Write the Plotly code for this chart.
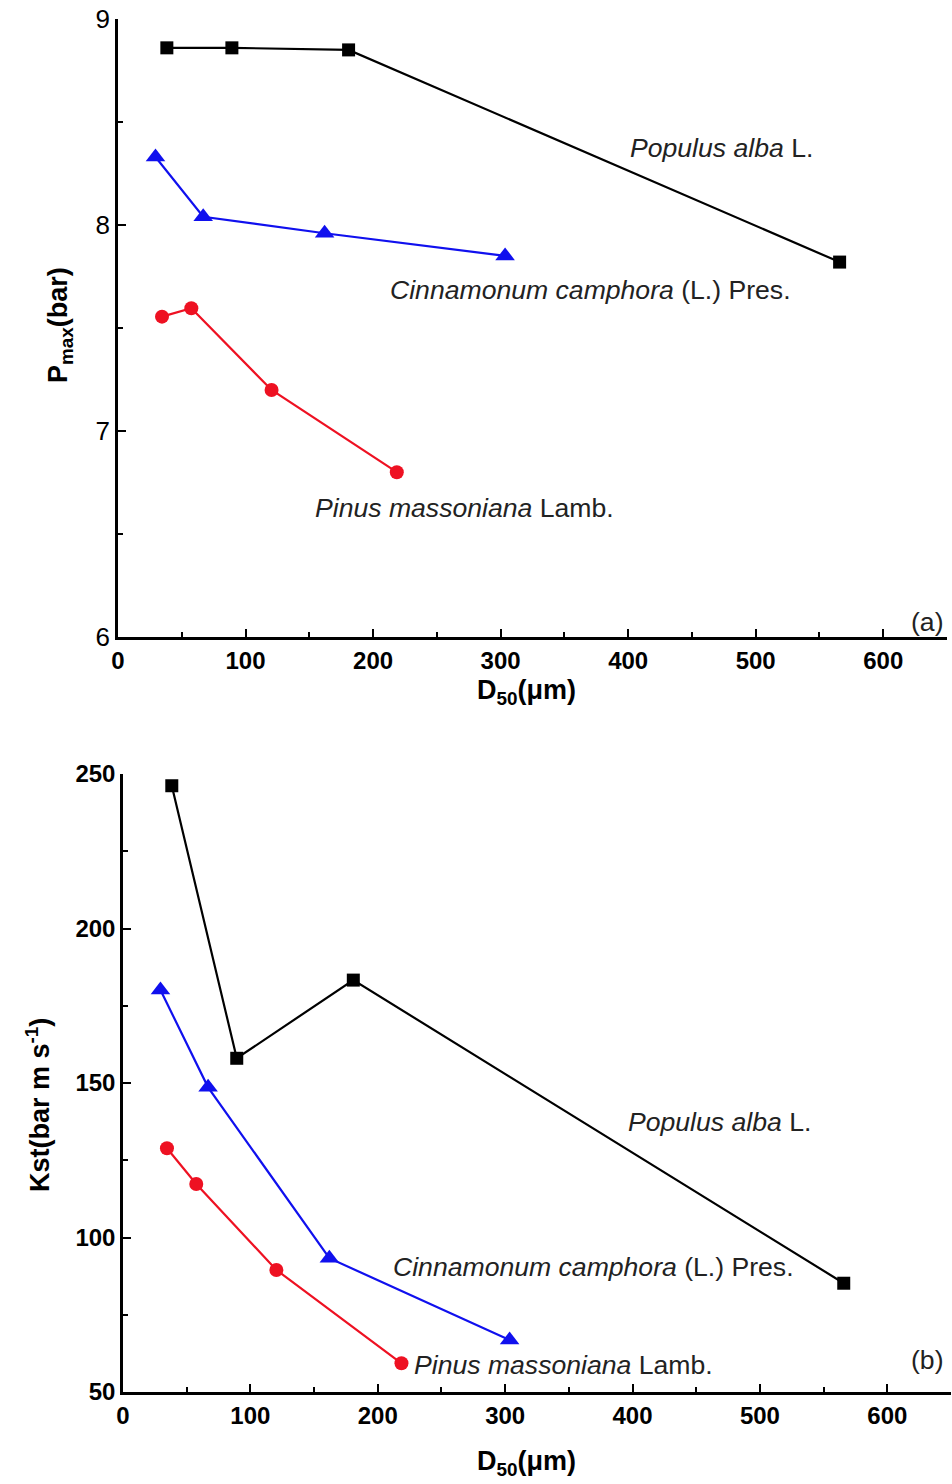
import plotly.graph_objects as go

# D50 (um) for each species
d50_populus = [38.3, 89.3, 180.8, 565.8]
d50_cinnamomum = [29.4, 66.8, 162.0, 303.5]
d50_pinus = [34.5, 57.5, 120.4, 218.6]

# Panel (a): Pmax (bar)
pmax_populus = [8.86, 8.86, 8.85, 7.82]
pmax_cinnamomum = [8.33, 8.04, 7.96, 7.85]
pmax_pinus = [7.555, 7.596, 7.199, 6.80]

# Panel (b): Kst (bar m s-1)
kst_populus = [246.2, 158.0, 183.3, 85.2]
kst_cinnamomum = [180.1, 148.6, 93.3, 66.8]
kst_pinus = [128.9, 117.3, 89.5, 59.3]

W, H = 952, 1484
FONT = "Liberation Sans, Arial, sans-serif"

fig = go.Figure()

series = [
    (d50_populus, pmax_populus, kst_populus, "black", "square", 13),
    (d50_cinnamomum, pmax_cinnamomum, kst_cinnamomum, "#1010ee", "triangle-up", 17),
    (d50_pinus, pmax_pinus, kst_pinus, "#ee1122", "circle", 14),
]
for xs, ya, yb, col, sym, sz in series:
    fig.add_trace(go.Scatter(x=xs, y=ya, mode="lines+markers", xaxis="x", yaxis="y",
                             line=dict(color=col, width=2.2),
                             marker=dict(symbol=sym, size=sz, color=col),
                             showlegend=False))
    fig.add_trace(go.Scatter(x=xs, y=yb, mode="lines+markers", xaxis="x2", yaxis="y2",
                             line=dict(color=col, width=2.2),
                             marker=dict(symbol=sym, size=sz, color=col),
                             showlegend=False))

def px_x(p):
    return p / W

def px_y(p):
    return 1 - p / H

axis_common = dict(showline=True, linecolor="black", linewidth=2.5, ticks="inside",
                   ticklen=8, tickwidth=2, tickcolor="black", showgrid=False,
                   zeroline=False, color="black", automargin=False)

fig.update_layout(
    template="none",
    width=W, height=H, margin=dict(l=0, r=0, t=0, b=0, pad=0),
    paper_bgcolor="white", plot_bgcolor="white",
    font=dict(family=FONT, color="black"),
    xaxis=dict(domain=[px_x(118), px_x(947)], range=[0, 650], dtick=100, tick0=0,
               anchor="y", tickfont=dict(size=24, weight="bold"),
               minor=dict(ticks="inside", ticklen=5, tickwidth=2, dtick=50, tickcolor="black"),
               **axis_common),
    yaxis=dict(domain=[px_y(637), px_y(19)], range=[6, 9], dtick=1, anchor="x",
               tickfont=dict(size=26),
               minor=dict(ticks="inside", ticklen=5, tickwidth=2, dtick=0.5, tickcolor="black"),
               **axis_common),
    xaxis2=dict(domain=[px_x(123), px_x(951)], range=[0, 650], dtick=100, tick0=0,
                anchor="y2", tickfont=dict(size=24, weight="bold"),
                minor=dict(ticks="inside", ticklen=5, tickwidth=2, dtick=50, tickcolor="black"),
                **axis_common),
    yaxis2=dict(domain=[px_y(1392), px_y(774)], range=[50, 250], dtick=50, anchor="x2",
                tickfont=dict(size=24, weight="bold"),
                minor=dict(ticks="inside", ticklen=5, tickwidth=2, dtick=25, tickcolor="black"),
                **axis_common),
)

ann = []
lab = dict(size=26.6, color="#222222", family=FONT)
# panel (a) labels
ann.append(dict(x=400, y=8.374, xref="x", yref="y", text="<i>Populus alba</i> L.",
                xanchor="left", yanchor="middle", showarrow=False, font=lab))
ann.append(dict(x=212, y=7.684, xref="x", yref="y", text="<i>Cinnamonum camphora</i> (L.) Pres.",
                xanchor="left", yanchor="middle", showarrow=False, font=lab))
ann.append(dict(x=153, y=6.626, xref="x", yref="y", text="<i>Pinus massoniana</i> Lamb.",
                xanchor="left", yanchor="middle", showarrow=False, font=lab))
ann.append(dict(x=649, y=6.073, xref="x", yref="y", text="(a)",
                xanchor="right", yanchor="middle", showarrow=False, font=lab))
# panel (b) labels
ann.append(dict(x=395, y=137.4, xref="x2", yref="y2", text="<i>Populus alba</i> L.",
                xanchor="left", yanchor="middle", showarrow=False, font=lab))
ann.append(dict(x=210, y=90.5, xref="x2", yref="y2", text="<i>Cinnamonum camphora</i> (L.) Pres.",
                xanchor="left", yanchor="middle", showarrow=False, font=lab))
ann.append(dict(x=227, y=58.7, xref="x2", yref="y2", text="<i>Pinus massoniana</i> Lamb.",
                xanchor="left", yanchor="middle", showarrow=False, font=lab))
ann.append(dict(x=646, y=60.4, xref="x2", yref="y2", text="(b)",
                xanchor="right", yanchor="middle", showarrow=False, font=lab))

# axis titles
tf = dict(size=27, color="black", family=FONT, weight="bold")
ann.append(dict(x=px_x(60), y=px_y(325), xref="paper", yref="paper",
                text="P<sub>max</sub>(bar)", textangle=-90, showarrow=False, font=tf,
                xanchor="center", yanchor="middle"))
ann.append(dict(x=px_x(526), y=px_y(692), xref="paper", yref="paper",
                text="D<sub>50</sub>(μm)", showarrow=False, font=tf,
                xanchor="center", yanchor="middle"))
ann.append(dict(x=px_x(38), y=px_y(1105), xref="paper", yref="paper",
                text="Kst(bar m s<sup>-1</sup>)", textangle=-90, showarrow=False, font=tf,
                xanchor="center", yanchor="middle"))
ann.append(dict(x=px_x(526), y=px_y(1463), xref="paper", yref="paper",
                text="D<sub>50</sub>(μm)", showarrow=False, font=tf,
                xanchor="center", yanchor="middle"))

fig.update_layout(annotations=ann)
fig.write_html("out.html")
